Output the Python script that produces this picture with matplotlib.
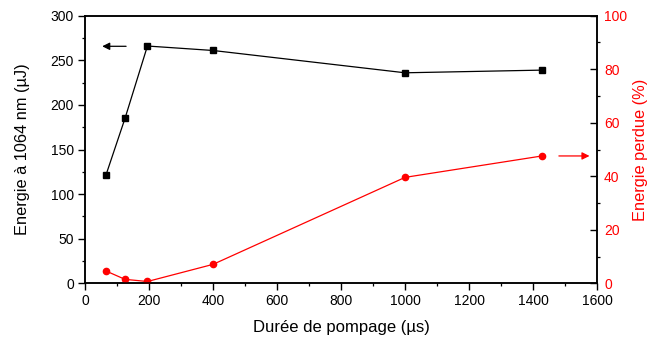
import matplotlib
matplotlib.use("Agg")
import matplotlib.pyplot as plt
from matplotlib.ticker import MultipleLocator

plt.rcParams['font.family'] = ['Liberation Sans', 'DejaVu Sans']

# Pump duration (µs)
duree = [66, 125, 195, 400, 1000, 1428]
# Output energy at 1064 nm (µJ)
energie = [122, 185, 266, 261, 236, 239]
# Lost energy (%)
perdue = [4.6, 1.5, 0.7, 7.1, 39.6, 47.6]

fig = plt.figure(figsize=(6.49, 3.41), dpi=100)
ax = fig.add_axes([0.131, 0.169, 0.789, 0.785])
ax2 = ax.twinx()

ax.plot(duree, energie, color='black', lw=0.9, marker='s', ms=4.5)
ax2.plot(duree, perdue, color='red', lw=0.9, marker='o', ms=4.5)

ax.set_xlim(0, 1600)
ax.set_ylim(0, 300)
ax2.set_ylim(0, 100)

ax.xaxis.set_major_locator(MultipleLocator(200))
ax.xaxis.set_minor_locator(MultipleLocator(100))
ax.yaxis.set_major_locator(MultipleLocator(50))
ax.yaxis.set_minor_locator(MultipleLocator(25))
ax2.yaxis.set_major_locator(MultipleLocator(20))
ax2.yaxis.set_minor_locator(MultipleLocator(10))

ax.tick_params(axis='both', which='major', direction='out', length=5, width=1.0,
               labelsize=10, pad=3)
ax.tick_params(axis='both', which='minor', direction='out', length=2.5, width=0.9)
ax2.tick_params(axis='y', which='major', direction='in', length=5, width=1.0,
                labelsize=10, labelcolor='red', colors='black', pad=5)
ax2.tick_params(axis='y', which='minor', direction='out', length=2.5, width=0.9)
for lbl in ax2.get_yticklabels():
    lbl.set_color('red')

for a in (ax, ax2):
    for s in a.spines.values():
        s.set_linewidth(1.1)

ax.set_xlabel('Durée de pompage (µs)', fontsize=12, labelpad=8)
ax.set_ylabel('Energie à 1064 nm (µJ)', fontsize=11.8, labelpad=15)
ax2.set_ylabel('Energie perdue (%)', fontsize=11.8, color='red', labelpad=4)

# Arrows pointing to each curve's axis
ax.annotate('', xy=(45, 265.7), xytext=(137, 265.7),
            arrowprops=dict(arrowstyle='-|>', color='black', lw=0.9,
                            mutation_scale=11))
ax2.annotate('', xy=(1585, 47.6), xytext=(1472, 47.6),
             arrowprops=dict(arrowstyle='-|>', color='red', lw=0.9,
                             mutation_scale=11))

fig.savefig('out.png', dpi=100)
